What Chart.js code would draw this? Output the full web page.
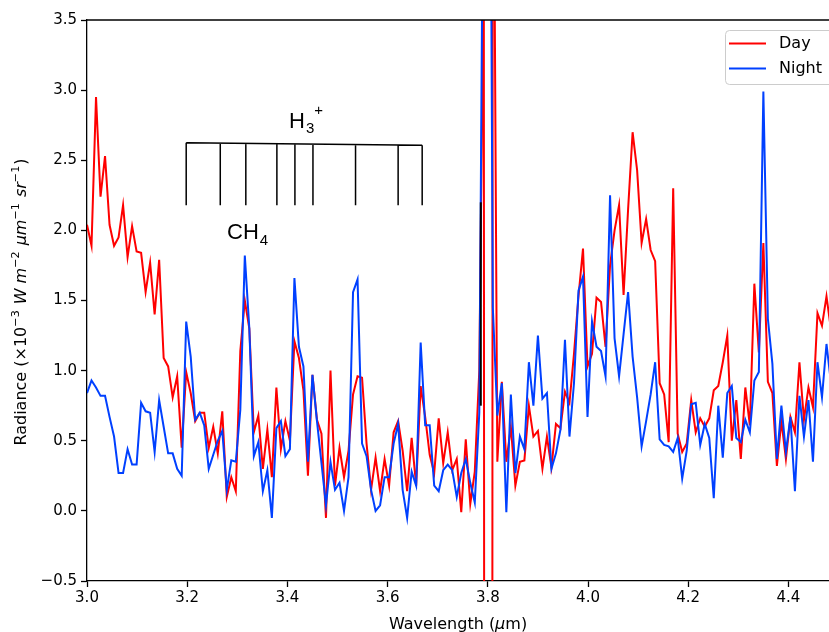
<!DOCTYPE html>
<html>
<head>
<meta charset="utf-8">
<script src="https://cdn.jsdelivr.net/npm/chart.js@4.4.0/dist/chart.umd.min.js"></script>
<style>
  html, body { margin: 0; padding: 0; background: #fff; }
  #wrap { width: 829px; height: 632px; }
</style>
</head>
<body>
<div id="wrap"><canvas id="spec" width="829" height="632"></canvas></div>
<script>
// wavelength grid (um)
const wavelength = [
  3.000, 3.009, 3.018, 3.027, 3.036, 3.045, 3.054, 3.063, 3.072, 3.081,
  3.090, 3.099, 3.108, 3.117, 3.126, 3.135, 3.144, 3.153, 3.162, 3.171,
  3.180, 3.189, 3.198, 3.207, 3.216, 3.225, 3.234, 3.243, 3.252, 3.261,
  3.270, 3.279, 3.288, 3.297, 3.306, 3.315, 3.324, 3.333, 3.342, 3.351,
  3.360, 3.369, 3.378, 3.387, 3.396, 3.405, 3.414, 3.423, 3.432, 3.441,
  3.450, 3.459, 3.468, 3.477, 3.486, 3.495, 3.504, 3.513, 3.522, 3.531,
  3.540, 3.549, 3.558, 3.567, 3.576, 3.585, 3.594, 3.603, 3.612, 3.621,
  3.630, 3.639, 3.648, 3.657, 3.666, 3.675, 3.684, 3.693, 3.702, 3.711,
  3.720, 3.729, 3.738, 3.747, 3.756, 3.765, 3.774, 3.783, 3.792, 3.801,
  3.810, 3.819, 3.828, 3.837, 3.846, 3.855, 3.864, 3.873, 3.882, 3.891,
  3.900, 3.909, 3.918, 3.927, 3.936, 3.945, 3.954, 3.963, 3.972, 3.981,
  3.990, 3.999, 4.008, 4.017, 4.026, 4.035, 4.044, 4.053, 4.062, 4.071,
  4.080, 4.089, 4.098, 4.107, 4.116, 4.125, 4.134, 4.143, 4.152, 4.161,
  4.170, 4.179, 4.188, 4.197, 4.206, 4.215, 4.224, 4.233, 4.242, 4.251,
  4.260, 4.269, 4.278, 4.287, 4.296, 4.305, 4.314, 4.323, 4.332, 4.341,
  4.350, 4.359, 4.368, 4.377, 4.386, 4.395, 4.404, 4.413, 4.422, 4.431,
  4.440, 4.449, 4.458, 4.467, 4.476, 4.485
];

// radiance, x1e-3 W m-2 um-1 sr-1
const day = [
  2.04, 1.89, 2.95, 2.24, 2.53, 2.04, 1.89, 1.95, 2.18, 1.81,
  2.03, 1.85, 1.84, 1.56, 1.77, 1.40, 1.79, 1.09, 1.03, 0.81,
  0.96, 0.45, 0.99, 0.84, 0.64, 0.70, 0.70, 0.45, 0.60, 0.41,
  0.71, 0.10, 0.24, 0.14, 1.14, 1.50, 1.30, 0.56, 0.68, 0.30,
  0.58, 0.24, 0.88, 0.44, 0.64, 0.50, 1.21, 1.09, 0.86, 0.25,
  0.97, 0.65, 0.55, -0.05, 1.00, 0.18, 0.45, 0.24, 0.43, 0.83,
  0.96, 0.95, 0.48, 0.15, 0.38, 0.14, 0.37, 0.18, 0.56, 0.64,
  0.43, 0.14, 0.52, 0.18, 0.89, 0.67, 0.40, 0.27, 0.66, 0.34,
  0.56, 0.29, 0.37, -0.01, 0.51, 0.05, 0.28, 1.00, 4.0, -60,
  6.0, 0.35, 0.92, 0.35, 0.60, 0.18, 0.35, 0.36, 0.75, 0.53,
  0.57, 0.30, 0.53, 0.31, 0.62, 0.59, 0.85, 0.77, 1.12, 1.53,
  1.87, 1.03, 1.12, 1.52, 1.49, 1.17, 1.75, 2.00, 2.18, 1.54,
  2.15, 2.70, 2.43, 1.91, 2.08, 1.86, 1.78, 0.91, 0.83, 0.49,
  2.30, 0.55, 0.42, 0.48, 0.79, 0.56, 0.66, 0.60, 0.66, 0.86,
  0.89, 1.06, 1.25, 0.50, 0.79, 0.37, 0.88, 0.61, 1.62, 1.13,
  1.91, 0.92, 0.84, 0.32, 0.64, 0.37, 0.67, 0.56, 1.06, 0.65,
  0.88, 0.74, 1.41, 1.32, 1.53, 1.29
];

const night = [
  0.84, 0.93, 0.88, 0.82, 0.82, 0.67, 0.53, 0.27, 0.27, 0.44,
  0.33, 0.33, 0.77, 0.71, 0.70, 0.42, 0.79, 0.60, 0.41, 0.41,
  0.30, 0.25, 1.35, 1.10, 0.65, 0.70, 0.61, 0.30, 0.40, 0.50,
  0.57, 0.15, 0.36, 0.35, 0.72, 1.82, 1.30, 0.39, 0.49, 0.14,
  0.29, -0.05, 0.59, 0.64, 0.39, 0.44, 1.66, 1.17, 1.03, 0.35,
  0.97, 0.64, 0.34, 0.04, 0.35, 0.15, 0.20, 0.00, 0.24, 1.56,
  1.65, 0.48, 0.39, 0.15, 0.00, 0.04, 0.24, 0.24, 0.48, 0.62,
  0.15, -0.05, 0.28, 0.18, 1.20, 0.61, 0.61, 0.18, 0.14, 0.29,
  0.33, 0.29, 0.10, 0.27, 0.37, 0.20, 0.06, 0.70, 5.4, 8.0,
  1.45, 0.68, 0.91, -0.01, 0.83, 0.27, 0.53, 0.44, 1.06, 0.75,
  1.25, 0.80, 0.84, 0.30, 0.41, 0.58, 1.22, 0.53, 0.91, 1.57,
  1.67, 0.67, 1.35, 1.17, 1.14, 0.96, 2.25, 1.23, 0.96, 1.26,
  1.56, 1.10, 0.81, 0.46, 0.64, 0.83, 1.06, 0.51, 0.47, 0.46,
  0.42, 0.52, 0.23, 0.43, 0.76, 0.77, 0.47, 0.62, 0.52, 0.09,
  0.75, 0.38, 0.84, 0.89, 0.52, 0.49, 0.65, 0.56, 0.93, 0.99,
  2.99, 1.37, 1.05, 0.37, 0.75, 0.42, 0.67, 0.14, 0.82, 0.53,
  0.79, 0.35, 1.06, 0.81, 1.19, 0.91
];

const xTicks = [3.0, 3.2, 3.4, 3.6, 3.8, 4.0, 4.2, 4.4];
const yTicks = [-0.5, 0.0, 0.5, 1.0, 1.5, 2.0, 2.5, 3.0, 3.5];

// H3+ line positions (um) and the marker at the gap
const h3Lines = [3.198, 3.266, 3.317, 3.379, 3.415, 3.451, 3.536, 3.621, 3.669];
const gapMarker = { x: 3.786, y0: 0.75, y1: 2.20 };

const FONT = "'DejaVu Sans', sans-serif";
Chart.defaults.font.family = FONT;
Chart.defaults.color = '#000';

function fmt(v) {
  return v.toFixed(1).replace('-', '\u2212');
}

// draws text made of pieces (normal / italic / superscript), centred on 0
function drawRich(ctx, parts, size) {
  const fontOf = p => (p.it ? 'italic ' : '') + (p.sup ? size * 0.7 : size) + 'px ' + FONT;
  let total = 0;
  parts.forEach(p => {
    ctx.font = fontOf(p);
    p.w = ctx.measureText(p.t).width + (p.gap || 0);
    total += p.w;
  });
  let cx = -total / 2;
  parts.forEach(p => {
    ctx.font = fontOf(p);
    ctx.fillText(p.t, cx + (p.gap || 0), p.sup ? -size * 0.42 : 0);
    cx += p.w;
  });
}

const overlay = {
  id: 'overlay',
  afterDatasetsDraw(chart) {
    const { ctx, scales: { x, y } } = chart;
    ctx.save();

    // marker line at the 3.8 um gap
    ctx.strokeStyle = '#000';
    ctx.lineWidth = 2;
    ctx.beginPath();
    ctx.moveTo(x.getPixelForValue(gapMarker.x), y.getPixelForValue(gapMarker.y0));
    ctx.lineTo(x.getPixelForValue(gapMarker.x), y.getPixelForValue(gapMarker.y1));
    ctx.stroke();

    // H3+ comb
    const x0 = x.getPixelForValue(h3Lines[0]);
    const x1 = x.getPixelForValue(h3Lines[h3Lines.length - 1]);
    const yA = y.getPixelForValue(2.624), yB = y.getPixelForValue(2.607);
    const yBot = y.getPixelForValue(2.18);
    ctx.lineWidth = 1.5;
    ctx.beginPath();
    ctx.moveTo(x0, yA);
    ctx.lineTo(x1, yB);
    h3Lines.forEach(w => {
      const px = x.getPixelForValue(w);
      const top = yA + (yB - yA) * (px - x0) / (x1 - x0);
      ctx.moveTo(px, top);
      ctx.lineTo(px, yBot);
    });
    ctx.stroke();

    // labels
    ctx.fillStyle = '#000';
    ctx.textBaseline = 'alphabetic';
    ctx.textAlign = 'left';
    const lab = "'Liberation Sans', Arial, sans-serif";
    ctx.font = '22px ' + lab;
    ctx.fillText('H', 289, 128);
    const hw = ctx.measureText('H').width;
    ctx.font = '15px ' + lab;
    ctx.fillText('3', 289 + hw + 1, 133);
    const tw = ctx.measureText('3').width;
    ctx.fillText('+', 289 + hw + tw + 1, 115);
    ctx.font = '22px ' + lab;
    ctx.fillText('CH', 227, 239);
    const cw = ctx.measureText('CH').width;
    ctx.font = '15px ' + lab;
    ctx.fillText('4', 227 + cw + 1, 245);

    ctx.restore();
  },
  afterDraw(chart) {
    const { ctx, chartArea: a } = chart;
    ctx.save();
    // top spine
    ctx.strokeStyle = '#000';
    ctx.lineWidth = 1.3;
    ctx.beginPath();
    ctx.moveTo(a.left, a.top);
    ctx.lineTo(chart.width, a.top);
    ctx.stroke();

    // legend
    const bx = 725, by = 30, bw = 120, bh = 54;
    ctx.fillStyle = 'rgba(255,255,255,0.8)';
    ctx.strokeStyle = '#cccccc';
    ctx.lineWidth = 1;
    ctx.beginPath();
    ctx.roundRect(bx + 0.5, by + 0.5, bw, bh, 4);
    ctx.fill();
    ctx.stroke();
    chart.data.datasets.forEach((ds, i) => {
      const ly = 43.5 + i * 25;
      ctx.strokeStyle = ds.borderColor;
      ctx.lineWidth = 2;
      ctx.beginPath();
      ctx.moveTo(729, ly);
      ctx.lineTo(766, ly);
      ctx.stroke();
      ctx.fillStyle = '#000';
      ctx.font = '16px ' + FONT;
      ctx.textBaseline = 'middle';
      ctx.textAlign = 'left';
      ctx.fillText(ds.label, 779, ly);
    });

    // axis titles
    ctx.fillStyle = '#000';
    ctx.textBaseline = 'alphabetic';
    ctx.textAlign = 'left';
    ctx.save();
    ctx.translate((a.left + a.right) / 2, 629);
    drawRich(ctx, [{ t: 'Wavelength (' }, { t: '\u03bc', it: true }, { t: 'm)' }], 16);
    ctx.restore();

    ctx.save();
    ctx.translate(26, 302);
    ctx.rotate(-Math.PI / 2);
    drawRich(ctx, [
      { t: 'Radiance (\u00d710' }, { t: '\u22123', sup: true },
      { t: 'W', it: true, gap: 6 }, { t: 'm', it: true, gap: 5 }, { t: '\u22122', sup: true },
      { t: '\u03bcm', it: true, gap: 6 }, { t: '\u22121', sup: true },
      { t: 'sr', it: true, gap: 6 }, { t: '\u22121', sup: true }, { t: ')', gap: 1 }
    ], 16);
    ctx.restore();
    ctx.restore();
  }
};

new Chart(document.getElementById('spec').getContext('2d'), {
  type: 'line',
  data: {
    datasets: [
      {
        label: 'Day',
        data: wavelength.map((w, i) => ({ x: w, y: day[i] })),
        borderColor: '#ff0000',
        borderWidth: 2,
        pointRadius: 0,
        tension: 0,
        order: 2
      },
      {
        label: 'Night',
        data: wavelength.map((w, i) => ({ x: w, y: night[i] })),
        borderColor: '#0040ff',
        borderWidth: 2,
        pointRadius: 0,
        tension: 0,
        order: 1
      }
    ]
  },
  options: {
    responsive: false,
    animation: false,
    events: [],
    layout: { padding: { top: 20, right: 0, left: 0, bottom: 0 } },
    plugins: { legend: { display: false }, tooltip: { enabled: false } },
    scales: {
      x: {
        type: 'linear',
        min: 3.0,
        max: 4.481,
        afterBuildTicks: s => { s.ticks = xTicks.map(v => ({ value: v })); },
        afterFit: s => { s.height = 51; },
        ticks: { font: { size: 15 }, color: '#000', padding: 2, maxRotation: 0, callback: v => fmt(v) },
        grid: { drawOnChartArea: false, drawTicks: true, tickLength: 6, tickColor: '#000', tickWidth: 1.3 },
        border: { display: true, color: '#000', width: 1.3 }
      },
      y: {
        type: 'linear',
        min: -0.5,
        max: 3.5,
        afterBuildTicks: s => { s.ticks = yTicks.map(v => ({ value: v })); },
        afterFit: s => { s.width = 87; },
        ticks: { font: { size: 15 }, color: '#000', padding: 4, callback: v => fmt(v) },
        grid: { drawOnChartArea: false, drawTicks: true, tickLength: 6, tickColor: '#000', tickWidth: 1.3 },
        border: { display: true, color: '#000', width: 1.3 }
      }
    }
  },
  plugins: [overlay]
});
</script>
</body>
</html>
